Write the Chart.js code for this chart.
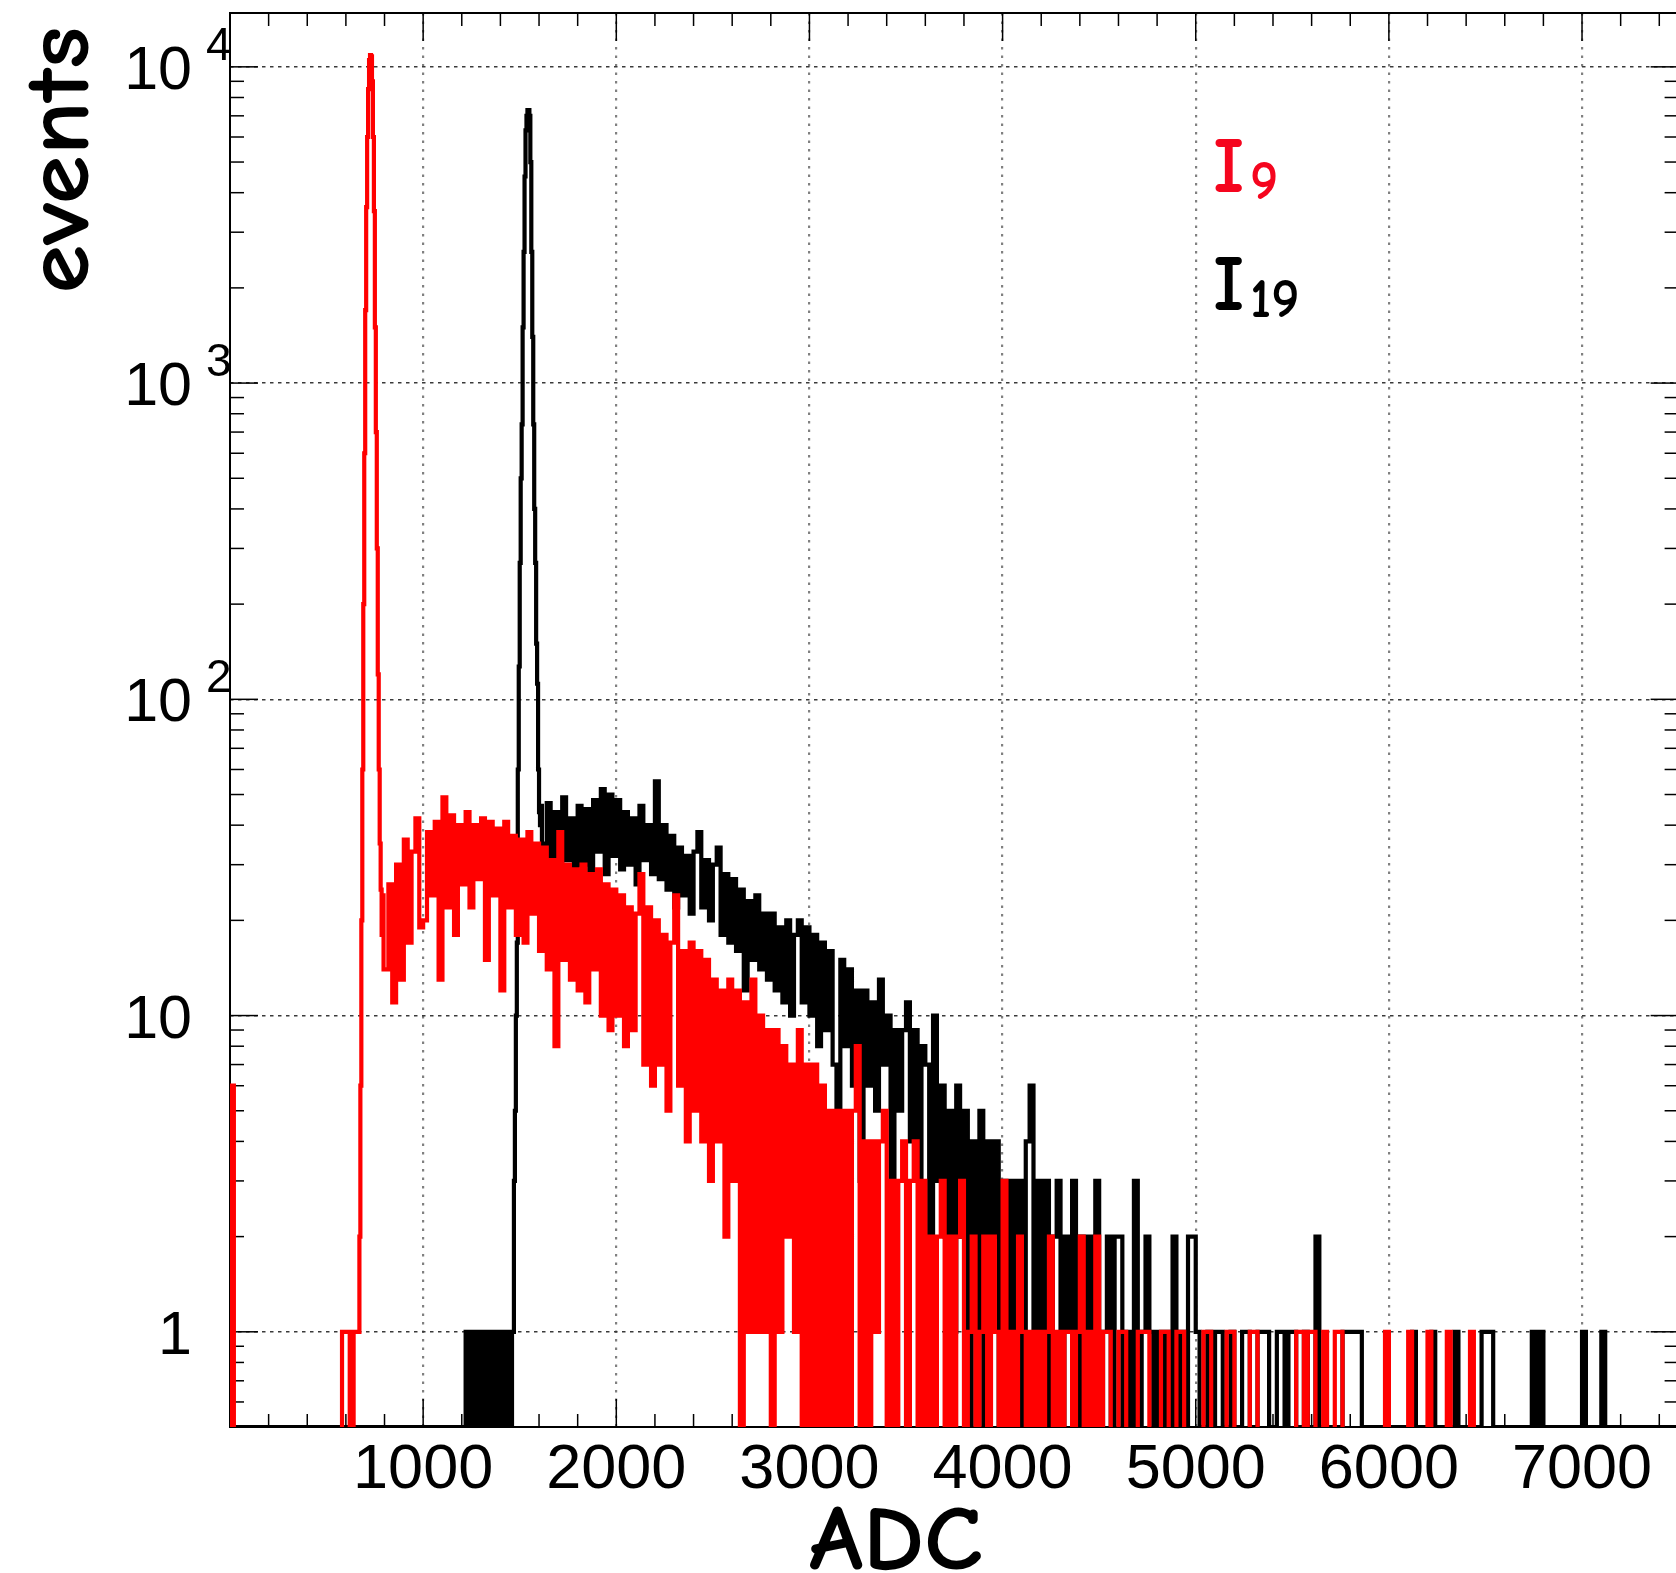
<!DOCTYPE html>
<html>
<head>
<meta charset="utf-8">
<title>ADC spectra</title>
<script src="https://cdn.jsdelivr.net/npm/chart.js@4.4.1/dist/chart.umd.min.js"></script>
<style>
  html, body { margin: 0; padding: 0; background: #fff; overflow: hidden; }
  canvas { display: block; }
</style>
</head>
<body>
<canvas id="adcSpectrum" width="1680" height="1573"></canvas>
<script>
// histogram binning: 20 ADC bins, with 5 ADC bins around the two peaks
const binWidth = 20;
const fineWidth = 5;

// I9 (red), one value per 20-ADC bin starting at 0 (null = covered by the fine peak bins)
const redCounts = [
  6, 0, 0, 0, 0, 0, 0, 0, 0, 0,              // 0
  0, 0, 0, 0, 0, 0, 0, 0, 0, 0,              // 200
  0, 0, 0, 0, 0, 0, 0, 0, 0, 1,              // 400
  1, 0, 1, null, null, null, null, null, null, null, // 600
  14, 26, 11, 30, 13, 36, 17, 33, 42, 19,    // 800
  20, 38, 24, 41, 13, 49, 22, 43, 18, 40,    // 1000
  26, 44, 22, 40, 27, 42, 15, 41, 24, 39,    // 1200
  12, 41, 22, 37, 18, 36, 17, 38, 21, 35,    // 1400
  16, 34, 14, 31, 8, 38, 15, 30, 13, 29,     // 1600
  12, 30, 11, 28, 14, 29, 10, 26, 9, 25,     // 1800
  10, 24, 8, 22, 9, 21, 28, 7, 22, 6,        // 2000
  20, 7, 18, 5, 17, 24, 6, 16, 4, 17,        // 2200
  5, 16, 4, 15, 3, 13, 4, 12, 2, 13,         // 2400
  3, 12, 0, 11, 1, 13, 1, 10, 1, 9,          // 2600
  0, 9, 1, 8, 2, 7, 1, 9, 0, 7,              // 2800
  0, 7, 0, 6, 0, 5, 0, 5, 0, 5,              // 3000
  0, 5, 8, 0, 4, 0, 4, 1, 4, 5,              // 3200
  0, 3, 0, 3, 4, 0, 3, 4, 0, 3,              // 3400
  0, 2, 0, 2, 3, 0, 2, 0, 2, 3,              // 3600
  0, 1, 2, 0, 1, 2, 0, 2, 1, 0,              // 3800
  3, 0, 1, 0, 2, 1, 0, 1, 0, 1,              // 4000
  0, 1, 2, 0, 1, 0, 1, 1, 0, 1,              // 4200
  2, 0, 1, 0, 2, 0, 1, 1, 0, 0,              // 4400
  1, 1, 0, 0, 0, 1, 1, 1, 0, 0,              // 4600
  0, 1, 1, 0, 0, 1, 1, 0, 0, 0,              // 4800
  0, 0, 1, 1, 0, 0, 0, 0, 1, 1,              // 5000
  0, 0, 0, 0, 1, 1, 0, 0, 0, 0,              // 5200
  0, 0, 0, 0, 0, 0, 1, 1, 0, 1,              // 5400
  1, 0, 0, 1, 0, 0, 1, 1, 0, 0,              // 5600
  0, 0, 0, 0, 0, 0, 0, 0, 0, 1,              // 5800
  0, 0, 0, 0, 0, 1, 0, 0, 0, 0,              // 6000
  1, 0, 0, 0, 0, 1, 0, 0, 0, 0,              // 6200
  0, 1, 0, 0, 0, 0, 0, 0, 0, 0,              // 6400
  0, 0, 0, 0, 0, 0, 0, 0, 0, 0,              // 6600
  0, 0, 0, 0, 0, 0, 0, 0, 0, 0,              // 6800
  0, 0, 0, 0, 0, 0, 0, 0, 0, 0,              // 7000
  0, 0, 0, 0, 0, 0, 0, 0, 0, 0,              // 7200
  0, 0, 0, 0, 0                              // 7400
];
// red peak, 5-ADC bins from 660 to 800
const redPeakStart = 660;
const redPeakCounts = [
  1, 1, 2, 6, 20, 60, 200, 600, 1700, 3600,
  6000, 8500, 10500, 10900, 10800, 9000, 6000, 3500, 1500, 700,
  300, 120, 60, 35, 25, 18, 24, 14
];

// I19 (black)
const blackCounts = [
  0, 0, 0, 0, 0, 0, 0, 0, 0, 0,              // 0
  0, 0, 0, 0, 0, 0, 0, 0, 0, 0,              // 200
  0, 0, 0, 0, 0, 0, 0, 0, 0, 0,              // 400
  0, 0, 0, 0, 0, 0, 0, 0, 0, 0,              // 600
  0, 0, 0, 0, 0, 0, 0, 0, 0, 0,              // 800
  0, 0, 0, 0, 0, 0, 0, 0, 0, 0,              // 1000
  0, 1, 0, 1, 0, 1, 0, 1, 0, 1,              // 1200
  0, 1, 0, null, null, null, null, null, null, null, // 1400
  null, 28, 47, 30, 44, 26, 49, 31, 42, 29,  // 1600
  46, 30, 45, 27, 48, 33, 52, 28, 50, 32,    // 1800
  48, 29, 44, 30, 42, 26, 46, 31, 40, 28,    // 2000
  55, 27, 40, 25, 37, 22, 34, 24, 32, 21,    // 2200
  33, 38, 22, 31, 20, 30, 34, 18, 28, 17,    // 2400
  27, 16, 25, 12, 23, 15, 24, 14, 21, 13,    // 2600
  21, 12, 19, 11, 20, 10, 18, 20, 11, 19,    // 2800
  10, 18, 8, 17, 9, 16, 7, 4, 15, 8,         // 3000
  14, 6, 12, 3, 12, 6, 11, 5, 13, 7,         // 3200
  10, 2, 9, 5, 9, 11, 4, 9, 3, 8,            // 3400
  7, 2, 10, 3, 6, 2, 5, 1, 6, 2,             // 3600
  5, 0, 4, 1, 5, 0, 4, 2, 4, 0,              // 3800
  3, 0, 3, 1, 3, 0, 4, 6, 0, 3,              // 4000
  1, 3, 0, 2, 3, 0, 2, 1, 3, 0,              // 4200
  2, 0, 2, 1, 3, 0, 1, 2, 0, 2,              // 4400
  2, 0, 1, 0, 3, 0, 1, 2, 1, 0,              // 4600
  1, 0, 1, 0, 2, 0, 1, 0, 2, 2,              // 4800
  1, 0, 0, 1, 0, 1, 1, 0, 0, 1,              // 5000
  0, 0, 1, 1, 0, 0, 1, 1, 1, 0,              // 5200
  0, 1, 1, 0, 1, 1, 0, 0, 1, 0,              // 5400
  0, 2, 0, 0, 0, 0, 0, 0, 1, 1,              // 5600
  1, 1, 1, 0, 0, 0, 0, 0, 0, 0,              // 5800
  0, 0, 0, 0, 0, 0, 1, 0, 0, 0,              // 6000
  0, 1, 0, 0, 0, 0, 0, 1, 0, 0,              // 6200
  0, 0, 0, 0, 1, 1, 1, 0, 0, 0,              // 6400
  0, 0, 0, 0, 0, 0, 0, 1, 0, 1,              // 6600
  0, 0, 0, 0, 0, 0, 0, 0, 0, 0,              // 6800
  1, 0, 0, 0, 0, 1, 0, 0, 0, 0,              // 7000
  0, 0, 0, 0, 0, 0, 0, 0, 0, 0,              // 7200
  0, 0, 0, 0, 0                              // 7400
];
// black peak, 5-ADC bins from 1460 to 1620
const blackPeakStart = 1460;
const blackPeakCounts = [
  1, 1, 3, 5, 10, 17, 60, 127, 270, 500,
  740, 1500, 2600, 4500, 6300, 7000, 7300, 7300, 7000, 5000,
  2600, 1400, 740, 400, 270, 150, 112, 60, 44, 40,
  46, 35
];

const xTicks = [1000, 2000, 3000, 4000, 5000, 6000, 7000];
const yDecades = [1, 10, 100, 1000, 10000];
const seriesNames = ['9', '19'];   // subscripts of I

const X_MIN = 0, X_MAX = 7500;
const Y_MIN = 0.5, Y_MAX = 14800;

// turn bin contents into step points (low edge of every bin);
// empty bins go to `zeroLevel` (on the axis, or below it so they are clipped away)
function toSteps(counts, peakStart, peakCounts, zeroLevel) {
  const bins = [];
  counts.forEach((c, i) => { if (c !== null) bins.push({ x: i * binWidth, c }); });
  peakCounts.forEach((c, i) => bins.push({ x: peakStart + i * fineWidth, c }));
  bins.sort((a, b) => a.x - b.x);
  const pts = [{ x: 0, y: zeroLevel }];
  bins.forEach(b => pts.push({ x: b.x, y: b.c > 0 ? b.c : zeroLevel }));
  pts.push({ x: counts.length * binWidth, y: zeroLevel });
  return pts;
}

const LABEL_FONT = '"Liberation Sans", Arial, Helvetica, sans-serif';
const TITLE_FONT = '"Comic Sans MS", "Comic Neue", "DejaVu Sans", sans-serif';

function line(ctx, x1, y1, x2, y2) {
  ctx.beginPath();
  ctx.moveTo(x1, y1);
  ctx.lineTo(x2, y2);
  ctx.stroke();
}

function squeezedText(ctx, text, x, y, width, font, angle) {
  ctx.save();
  ctx.translate(x, y);
  if (angle) ctx.rotate(angle);
  ctx.font = font;
  const w = ctx.measureText(text).width;
  ctx.scale(width / w, 1);
  ctx.textAlign = 'center';
  ctx.textBaseline = 'alphabetic';
  ctx.fillText(text, 0, 0);
  ctx.restore();
}

const rootFrame = {
  id: 'rootFrame',
  beforeDatasetsDraw(chart) {
    const { ctx, chartArea: a, scales: { x, y } } = chart;
    ctx.save();
    ctx.strokeStyle = '#000';
    ctx.lineWidth = 1.5;
    // ticks on all four sides, pointing inwards
    for (let v = X_MIN; v <= X_MAX; v += 200) {
      const px = x.getPixelForValue(v);
      const len = v % 1000 === 0 ? 28 : 13;
      line(ctx, px, a.bottom, px, a.bottom - len);
      line(ctx, px, a.top, px, a.top + len);
    }
    for (let d = 0.1; d <= 10000; d *= 10) {
      for (let k = 1; k <= 9; k++) {
        const v = k * d;
        if (v < Y_MIN || v > Y_MAX) continue;
        const py = y.getPixelForValue(v);
        const len = k === 1 ? 28 : 14;
        line(ctx, a.left, py, a.left + len, py);
        line(ctx, a.right, py, a.right - len, py);
      }
    }
    ctx.lineWidth = 2;
    ctx.strokeRect(a.left, a.top, a.right - a.left, a.bottom - a.top);
    ctx.restore();
  },
  afterDraw(chart) {
    const { ctx, chartArea: a, scales: { x, y } } = chart;
    ctx.save();
    ctx.fillStyle = '#000';

    // x tick labels
    ctx.font = '63px ' + LABEL_FONT;
    ctx.textAlign = 'center';
    ctx.textBaseline = 'alphabetic';
    xTicks.forEach(v => ctx.fillText(String(v), x.getPixelForValue(v), a.bottom + 61));

    // y tick labels, 10^n style
    yDecades.forEach(v => {
      const py = y.getPixelForValue(v);
      const exp = Math.round(Math.log10(v));
      ctx.font = '61px ' + LABEL_FONT;
      ctx.textAlign = 'right';
      if (exp <= 1) {
        ctx.fillText(String(v), 192, py + 22);
      } else {
        ctx.fillText('10', 192, py + 22);
        ctx.font = '46px ' + LABEL_FONT;
        ctx.textAlign = 'left';
        ctx.fillText(String(exp), 206, py - 7);
      }
    });

    // axis titles
    squeezedText(ctx, 'events', 88, 160, 267, 'bold 90px ' + TITLE_FONT, -Math.PI / 2);
    squeezedText(ctx, 'ADC', 896, 1569, 174, 'bold 92px ' + TITLE_FONT, 0);

    // legend
    const legendColors = ['#f5051e', '#000'];
    const legendY = [192, 310];
    seriesNames.forEach((name, i) => {
      ctx.fillStyle = legendColors[i];
      ctx.textAlign = 'left';
      ctx.font = 'bold 78px ' + TITLE_FONT;
      ctx.fillText('I', 1213, legendY[i]);
      ctx.font = 'bold 54px ' + TITLE_FONT;
      ctx.fillText(name, 1250, legendY[i] + 7);
    });
    ctx.restore();
  }
};

const chartCanvas = document.getElementById('adcSpectrum');
const ctx = chartCanvas.getContext('2d');

window.adcChart = new Chart(ctx, {
  type: 'line',
  data: {
    datasets: [
      {
        label: 'I9',
        data: toSteps(redCounts, redPeakStart, redPeakCounts, 0.3),
        borderColor: '#ff0000',
        borderWidth: 4.2,
        stepped: 'before',
        pointRadius: 0,
        fill: false,
        order: 0
      },
      {
        label: 'I19',
        data: toSteps(blackCounts, blackPeakStart, blackPeakCounts, Y_MIN),
        borderColor: '#000000',
        borderWidth: 4.2,
        stepped: 'before',
        pointRadius: 0,
        fill: false,
        order: 1
      }
    ]
  },
  options: {
    responsive: false,
    animation: false,
    devicePixelRatio: 1,
    events: [],
    layout: {
      padding: { left: 230, top: 13, right: 1.4, bottom: 146 }
    },
    plugins: {
      legend: { display: false },
      tooltip: { enabled: false }
    },
    scales: {
      x: {
        type: 'linear',
        min: X_MIN,
        max: X_MAX,
        afterBuildTicks: s => { s.ticks = xTicks.map(v => ({ value: v })); },
        ticks: { display: false },
        grid: { color: '#808080', lineWidth: 2.2, drawTicks: false },
        border: { display: false, dash: [2.5, 6] }
      },
      y: {
        type: 'logarithmic',
        min: Y_MIN,
        max: Y_MAX,
        afterBuildTicks: s => { s.ticks = yDecades.map(v => ({ value: v })); },
        ticks: { display: false },
        grid: { color: '#3a3a3a', lineWidth: 1.5, drawTicks: false },
        border: { display: false, dash: [3.5, 4.5] }
      }
    }
  },
  plugins: [rootFrame]
});
</script>
</body>
</html>
